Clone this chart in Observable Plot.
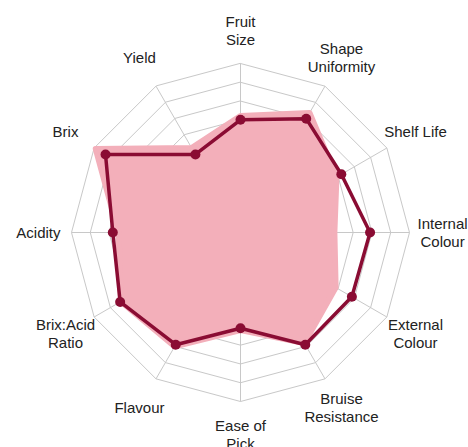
<!DOCTYPE html>
<html><head><meta charset="utf-8">
<script src="https://cdn.jsdelivr.net/npm/d3@7"></script>
<script src="https://cdn.jsdelivr.net/npm/@observablehq/plot@0.6"></script>
<style>body{margin:0;background:#fff}</style>
</head><body><div id="chart"></div>
<script>
const categories = ["Fruit\nSize","Shape\nUniformity","Shelf Life","Internal\nColour","External\nColour","Bruise\nResistance","Ease of\nPick","Flavour","Brix:Acid\nRatio","Acidity","Brix","Yield"];
const seriesA = [6.2, 7.35, 5.9, 5.0, 5.85, 6.8, 5.2, 7.0, 7.35, 6.5, 8.9, 5.2];   // pink area
const seriesB = [6.0, 7.0, 6.2, 6.9, 6.85, 6.9, 5.1, 6.9, 7.4, 6.8, 8.3, 4.8];    // dark line
const gridLevels = [1, 2, 3, 4, 5, 6, 7, 8, 9];
const maxValue = 9;
const labelRadius = 10.76;

const n = categories.length;
const ang = i => i * 2 * Math.PI / n;
const pt = (i, v) => ({x: v * Math.sin(ang(i)), y: v * Math.cos(ang(i))});

const ringData = gridLevels.flatMap(l => categories.map((c, i) => ({...pt(i, l), level: l})));
const spokes = categories.map((c, i) => ({x1: 0, y1: 0, x2: pt(i, maxValue).x, y2: pt(i, maxValue).y}));
const dataA = seriesA.map((v, i) => pt(i, v));
const dataB = seriesB.map((v, i) => pt(i, v));
const labels = categories.map((c, i) => ({...pt(i, labelRadius), text: c}));

const pink = "#f3afba";
const dark = "#8a0c33";

const chart = Plot.plot({
  width: 468,
  height: 447,
  marginLeft: 71,
  marginRight: 59,
  marginTop: 63,
  marginBottom: 46,
  x: {domain: [-maxValue, maxValue], axis: null},
  y: {domain: [-maxValue, maxValue], axis: null},
  style: {fontFamily: "'Liberation Sans', Arial, sans-serif", background: "#fff", overflow: "visible"},
  marks: [
    Plot.line(ringData, {x: "x", y: "y", z: "level", curve: "linear-closed", stroke: "#c8c8c8", strokeWidth: 1}),
    Plot.link(spokes, {x1: "x1", y1: "y1", x2: "x2", y2: "y2", stroke: "#c8c8c8", strokeWidth: 1}),
    Plot.line(dataA, {x: "x", y: "y", curve: "linear-closed", fill: pink, stroke: pink, strokeWidth: 6, strokeLinejoin: "round"}),
    Plot.line(dataB, {x: "x", y: "y", curve: "linear-closed", stroke: dark, strokeWidth: 3.5, strokeLinejoin: "round"}),
    Plot.dot(dataB, {x: "x", y: "y", r: 5, fill: dark}),
    Plot.text(labels, {x: "x", y: "y", text: "text", fontSize: 15, lineHeight: 1.18, fill: "#222", textAnchor: "middle"})
  ]
});
document.getElementById("chart").append(chart);
</script>
</body></html>
